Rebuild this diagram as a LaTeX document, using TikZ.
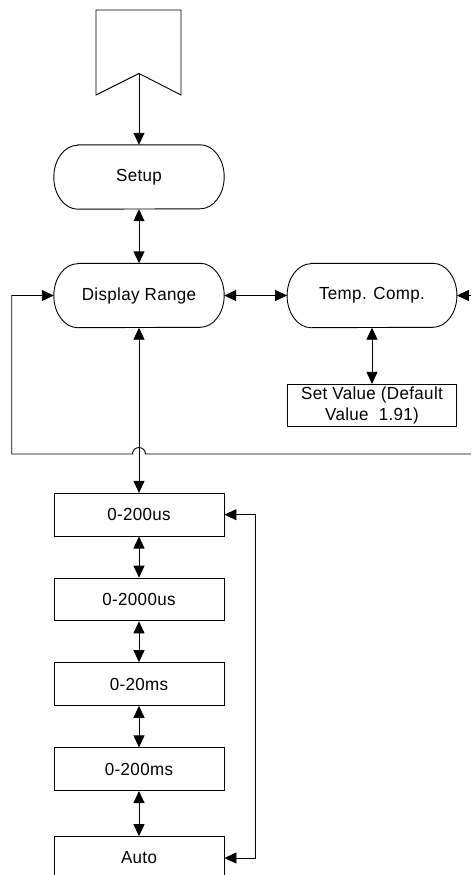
\documentclass[tikz,border=0pt]{standalone}
\usepackage{fontspec}
\setmainfont{Liberation Sans}[FakeStretch=0.97,LetterSpace=2]
\usetikzlibrary{arrows.meta,calc}
\newcommand\stadiumpath[1]{%
  \draw[line width=0.9pt] ($(#1.north west)+(24,0)$) -- ($(#1.north east)+(-24,0)$)
    arc[start angle=90,end angle=-90,x radius=24,y radius=32]
    -- ($(#1.south west)+(24,0)$)
    arc[start angle=270,end angle=90,x radius=24,y radius=32] -- cycle;}
\begin{document}
\begin{tikzpicture}[x=1pt,y=1pt,
  every node/.style={font=\fontsize{17.5}{20.7}\selectfont},
  box/.style={draw,line width=0.9pt,minimum width=170pt,minimum height=42.7pt,inner sep=0pt},
  term/.style={minimum width=170pt,minimum height=64pt,inner sep=0pt},
  arr/.style={line width=0.9pt,-{Triangle[length=12pt,width=11pt]}},
  link/.style={line width=0.9pt,{Triangle[length=12pt,width=11pt]}-{Triangle[length=12pt,width=11pt]}}]
\useasboundingbox (0,0) rectangle (471,-875);
% off-page connector
\draw[line width=0.9pt] (96,-10) -- (181,-10) -- (181,-95) -- (139,-73.5) -- (96,-95) -- cycle;
\coordinate (notch) at (139,-73.5);
% terminals
\node[term] (setup) at (139,-177) {Setup};
\stadiumpath{setup}
\node[term] (dr) at (139,-295.5) {Display Range};
\stadiumpath{dr}
\node[term,minimum width=169.4pt] (tc) at (372,-295.5) {Temp. Comp.};
\stadiumpath{tc}
\node[box,minimum width=169.4pt,minimum height=41.7pt,align=center] (sv) at (372,-405.2) {Set Value (Default\\Value\ \ 1.91)};
% range boxes
\node[box] (b1) at (139,-514.7) {0-200us};
\node[box] (b2) at (139,-599.5) {0-2000us};
\node[box] (b3) at (139,-684) {0-20ms};
\node[box] (b4) at (139,-769.2) {0-200ms};
\node[box] (b5) at (139,-858) {Auto};
% connectors
\draw[arr] (notch) -- (setup.north);
\draw[link] (setup.south) -- (dr.north);
\draw[link] (dr.east) -- (tc.west);
\coordinate (rin) at (471,-295.5);
\draw[arr] (rin) -- (tc.east);
\draw[link] (tc.south) -- (sv.north);
\draw[link] (dr.south) -- (b1.north);
\draw[link] (b1.south) -- (b2.north);
\draw[link] (b2.south) -- (b3.north);
\draw[link] (b3.south) -- (b4.north);
\draw[link] (b4.south) -- (b5.north);
\draw[link] (b1.east) -- ++(31.3,0) |- (b5.east);
\coordinate (fin) at (471,-454);
\draw[arr] (fin) -- (145.5,-454) arc[start angle=0,end angle=180,radius=6.5] -- (11.7,-454) |- (dr.west);
\end{tikzpicture}
\end{document}
